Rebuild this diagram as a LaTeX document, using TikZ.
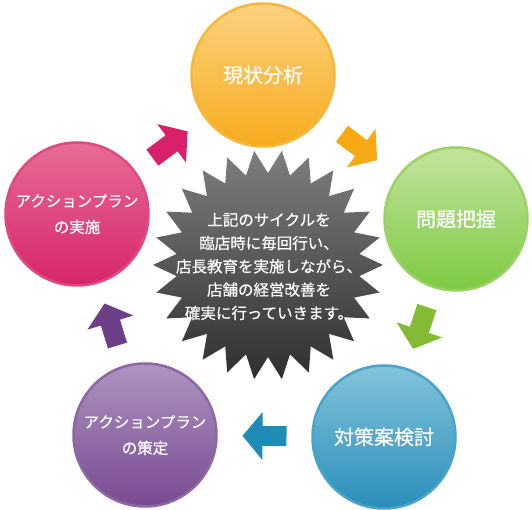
\documentclass[tikz,border=0pt]{standalone}
\usepackage{fontspec}
\newfontfamily\jp[FakeBold=0.5]{Noto Sans CJK JP}
\usetikzlibrary{calc}
\definecolor{orTop}{HTML}{FBD280}
\definecolor{orBot}{HTML}{F7AB1D}
\definecolor{orRing}{HTML}{F8B73A}
\definecolor{orArr}{HTML}{F7A815}
\definecolor{grTop}{HTML}{C4E39E}
\definecolor{grBot}{HTML}{7CCA42}
\definecolor{grRing}{HTML}{9CD265}
\definecolor{grArr}{HTML}{83BB35}
\definecolor{tlTop}{HTML}{82C4DA}
\definecolor{tlBot}{HTML}{2A8EBA}
\definecolor{tlRing}{HTML}{4AA3CB}
\definecolor{tlArr}{HTML}{1F8BB6}
\definecolor{puTop}{HTML}{AD94C1}
\definecolor{puBot}{HTML}{784A92}
\definecolor{puRing}{HTML}{8C67A4}
\definecolor{puArr}{HTML}{6D3F88}
\definecolor{pkTop}{HTML}{E66C96}
\definecolor{pkBot}{HTML}{D7256B}
\definecolor{pkRing}{HTML}{DE4A80}
\definecolor{pkArr}{HTML}{D9216B}
\definecolor{stTop}{HTML}{7E7E7E}
\definecolor{stBot}{HTML}{2F2F2F}
\tikzset{
  stepcircle/.style={circle, minimum size=143pt, inner sep=0pt, line width=2.5pt,
    text=white, align=center},
  bigtext/.style={font=\jp\fontsize{20}{26}\selectfont},
  smalltext/.style={font=\jp\fontsize{15.5}{26}\selectfont},
  blockarrow/.pic={\fill[#1] (-22,-10) -- (2,-10) -- (2,-24) -- (22,0) -- (2,24) -- (2,10) -- (-22,10) -- cycle;}
}
\begin{document}
\begin{tikzpicture}[x=1pt,y=1pt]
\useasboundingbox (0,0) rectangle (532,510);
% starburst
\shade[top color=stTop, bottom color=stBot, shift={(268,245)}]
  (96.923:115pt)
  \foreach \k [evaluate=\k as \r using {115-23*mod(\k,2)},
               evaluate=\k as \a using {96.923+\k*6.923}] in {1,...,51} { -- (\a:\r pt) }
  -- cycle;
\node[text=white, align=center, font=\jp\fontsize{15.5}{23.3}\selectfont] (msg) at (269,243.5)
  {上記のサイクルを\\臨店時に毎回行い、\\店長教育を実施しながら、\\店舗の経営改善を\\確実に行っていきます。};
% circles
\node[stepcircle, bigtext, top color=orTop, bottom color=orBot, draw=orRing] (s1) at (263,435) {現状分析};
\node[stepcircle, bigtext, top color=grTop, bottom color=grBot, draw=grRing] (s2) at (456,291) {問題把握};
\node[stepcircle, bigtext, top color=tlTop, bottom color=tlBot, draw=tlRing] (s3) at (384,73) {対策案検討};
\node[stepcircle, smalltext, top color=puTop, bottom color=puBot, draw=puRing] (s4) at (145,75) {アクションプラン\\の策定};
\node[stepcircle, smalltext, top color=pkTop, bottom color=pkBot, draw=pkRing] (s5) at (77,296) {アクションプラン\\の実施};
% arrows
\path let \p1=($(s2)-(s1)$), \n1={atan2(\y1,\x1)} in pic[rotate=\n1] at ($(s1)!0.5!(s2)$) {blockarrow=orArr};
\path let \p1=($(s3)-(s2)$), \n1={atan2(\y1,\x1)} in pic[rotate=\n1] at ($(s2)!0.5!(s3)$) {blockarrow=grArr};
\path let \p1=($(s4)-(s3)$), \n1={atan2(\y1,\x1)} in pic[rotate=\n1] at ($(s3)!0.5!(s4)$) {blockarrow=tlArr};
\path let \p1=($(s5)-(s4)$), \n1={atan2(\y1,\x1)} in pic[rotate=\n1] at ($(s4)!0.5!(s5)$) {blockarrow=puArr};
\path let \p1=($(s1)-(s5)$), \n1={atan2(\y1,\x1)} in pic[rotate=\n1] at ($(s5)!0.5!(s1)$) {blockarrow=pkArr};
\end{tikzpicture}
\end{document}
